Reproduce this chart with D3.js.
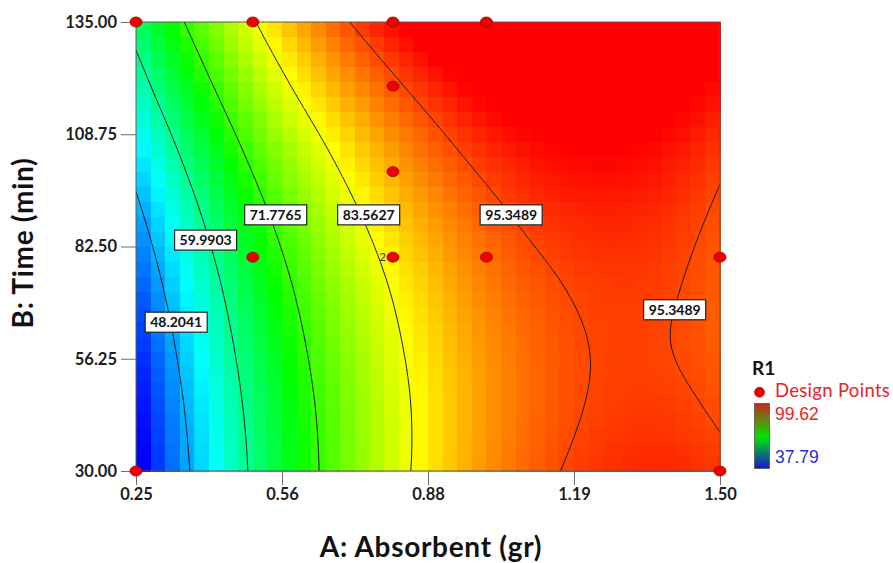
<!DOCTYPE html>
<html>
<head>
<meta charset="utf-8">
<script src="https://cdn.jsdelivr.net/npm/d3@7"></script>
<style>
  body { margin: 0; background: #fff; }
  svg { display: block; }
</style>
</head>
<body>
<svg id="chart" width="893" height="563"></svg>
<script>
// ---- Data -------------------------------------------------------------
// Factor levels of the response grid
const absorbentLevels = [0.25, 0.375, 0.5, 0.625, 0.75, 0.875, 1.0, 1.125, 1.25, 1.375, 1.5];
const timeLevels = [30, 45, 60, 75, 90, 105, 120, 135];
// Predicted R1: one row per time level (30 -> 135), one column per absorbent level
const r1Grid = [
  [35.8, 49.2, 60.9, 70.6, 78.7, 85.4, 90.8, 94.6, 96.8, 97.4, 96.4],
  [37.3, 50.4, 61.8, 71.2, 78.9, 85.3, 90.4, 93.9, 95.8, 96.1, 94.8],
  [39.6, 52.4, 63.5, 72.6, 80.0, 86.1, 90.8, 94.0, 95.6, 95.5, 93.9],
  [42.7, 55.1, 65.9, 74.7, 81.8, 87.6, 92.1, 94.9, 96.2, 95.9, 93.9],
  [46.6, 58.7, 69.2, 77.7, 84.5, 90.0, 94.1, 96.7, 97.6, 97.0, 94.7],
  [51.4, 63.2, 73.4, 81.5, 88.0, 93.2, 97.0, 99.2, 99.9, 98.9, 96.3],
  [56.9, 68.4, 78.2, 86.1, 92.3, 97.2, 100.7, 102.6, 102.9, 101.6, 98.8],
  [62.4, 73.6, 83.1, 91.0, 97.3, 102.0, 105.2, 106.8, 106.8, 105.2, 102.0]
];
const r1Min = 37.79;
const r1Max = 99.62;
const contourLevels = [48.2041, 59.9903, 71.7765, 83.5627, 95.3489];
// Where each contour value is written (A, B)
const contourLabelValues = [48.2041, 59.9903, 71.7765, 83.5627, 95.3489, 95.3489];
const contourLabelA = [0.336, 0.399, 0.549, 0.748, 1.053, 1.403];
const contourLabelB = [64.8, 84.0, 89.9, 89.9, 89.9, 67.7];
// Design points (run settings) and their replicate counts
const pointA = [0.25, 0.5, 0.8, 1.0, 0.8, 0.8, 0.5, 0.8, 1.0, 1.5, 0.25, 1.5];
const pointB = [135, 135, 135, 135, 120, 100, 80, 80, 80, 80, 30, 30];
const pointReps = [1, 1, 1, 1, 1, 1, 1, 2, 1, 1, 1, 1];
// Axis ticks
const xTickValues = [0.25, 0.5625, 0.875, 1.1875, 1.5];
const xTickLabels = ["0.25", "0.56", "0.88", "1.19", "1.50"];
const yTickValues = [30, 56.25, 82.5, 108.75, 135];
const yTickLabels = ["30.00", "56.25", "82.50", "108.75", "135.00"];

// ---- Layout -----------------------------------------------------------
const plot = { left: 136, right: 720, top: 22, bottom: 471 };
const svg = d3.select("#chart");
const x = d3.scaleLinear().domain([0.25, 1.5]).range([plot.left, plot.right]);
const y = d3.scaleLinear().domain([30, 135]).range([plot.bottom, plot.top]);
const FONT = "Lato, 'Open Sans', sans-serif";

// Colour ramp blue -> cyan -> green -> yellow -> red
const color = d3.scaleLinear()
  .domain(d3.range(5).map(k => r1Min + k * (r1Max - r1Min) / 4))
  .range(["#0000ff", "#00ffff", "#00ff00", "#ffff00", "#ff0000"])
  .interpolate(d3.interpolateRgb)
  .clamp(true);

// ---- Smooth surface through the grid (Catmull-Rom in both directions) --
const aIdx = d3.scaleLinear().domain(d3.extent(absorbentLevels)).range([0, absorbentLevels.length - 1]);
const bIdx = d3.scaleLinear().domain(d3.extent(timeLevels)).range([0, timeLevels.length - 1]);

function catmull(p0, p1, p2, p3, t) {
  return p1 + 0.5 * t * (p2 - p0 + t * (2 * p0 - 5 * p1 + 4 * p2 - p3 + t * (3 * (p1 - p2) + p3 - p0)));
}
function along(arr, u) {
  const n = arr.length;
  u = Math.max(0, Math.min(n - 1, u));
  const i = Math.min(Math.floor(u), n - 2);
  const t = u - i;
  const g = k => k < 0 ? 3 * arr[0] - 3 * arr[1] + arr[2]
    : k > n - 1 ? 3 * arr[n - 1] - 3 * arr[n - 2] + arr[n - 3] : arr[k];
  return catmull(g(i - 1), g(i), g(i + 1), g(i + 2), t);
}
function surface(a, b) {
  const u = aIdx(a), v = bIdx(b);
  const column = r1Grid.map(row => along(row, u));
  return along(column, v);
}

// ---- Heat map blocks --------------------------------------------------
const nCols = 40, nRows = 30;
const dA = (1.5 - 0.25) / nCols, dB = (135 - 30) / nRows;
const cells = [];
for (let j = 0; j < nRows; j++) {
  for (let i = 0; i < nCols; i++) {
    const a0 = 0.25 + i * dA, b0 = 30 + j * dB;
    cells.push({ a0, a1: a0 + dA, b0, b1: b0 + dB, v: surface(a0 + dA / 2, b0 + dB / 2) });
  }
}
const defs = svg.append("defs");
defs.append("clipPath").attr("id", "plotClip")
  .append("rect")
  .attr("x", plot.left).attr("y", plot.top)
  .attr("width", plot.right - plot.left).attr("height", plot.bottom - plot.top);

svg.append("g").attr("shape-rendering", "crispEdges")
  .selectAll("rect").data(cells).join("rect")
  .attr("x", d => x(d.a0))
  .attr("y", d => y(d.b1))
  .attr("width", d => x(d.a1) - x(d.a0) + 0.5)
  .attr("height", d => y(d.b0) - y(d.b1) + 0.5)
  .attr("fill", d => color(d.v));

// ---- Contour lines ----------------------------------------------------
const pad = 5, sn = 150, sm = 114;
const sA = 1.25 / sn, sB = 105 / sm;
const gw = sn + 1 + 2 * pad, gh = sm + 1 + 2 * pad;
const sampled = new Array(gw * gh);
for (let j = 0; j < gh; j++) {
  for (let i = 0; i < gw; i++) {
    sampled[j * gw + i] = surface(0.25 + (i - pad) * sA, 30 + (j - pad) * sB);
  }
}
const gridToPx = d3.geoTransform({
  point(cx, cy) {
    this.stream.point(x(0.25 + (cx - 0.5 - pad) * sA), y(30 + (cy - 0.5 - pad) * sB));
  }
});
const contourGen = d3.contours().size([gw, gh]).thresholds(contourLevels);
svg.append("g").attr("clip-path", "url(#plotClip)")
  .selectAll("path").data(contourGen(sampled)).join("path")
  .attr("d", d3.geoPath(gridToPx))
  .attr("fill", "none")
  .attr("stroke", "#1b1b1b")
  .attr("stroke-width", 1);

// ---- Plot frame -------------------------------------------------------
svg.append("rect")
  .attr("x", plot.left).attr("y", plot.top)
  .attr("width", plot.right - plot.left).attr("height", plot.bottom - plot.top)
  .attr("fill", "none").attr("stroke", "#5a5a5a").attr("stroke-width", 1);

// ---- Axes -------------------------------------------------------------
const xAxis = d3.axisBottom(x).tickValues(xTickValues)
  .tickFormat((d, i) => xTickLabels[i]).tickSizeInner(14).tickSizeOuter(0).tickPadding(3);
const yAxis = d3.axisLeft(y).tickValues(yTickValues)
  .tickFormat((d, i) => yTickLabels[i]).tickSizeInner(15).tickSizeOuter(0).tickPadding(4);

function styleAxis(g) {
  g.select(".domain").remove();
  g.selectAll(".tick line").attr("stroke", "#6e6e6e");
  g.selectAll(".tick text")
    .attr("fill", "#1e1e1e")
    .style("font-family", FONT)
    .style("font-weight", "700")
    .style("font-size", "16.5px");
}
svg.append("g").attr("transform", `translate(0,${plot.bottom})`).call(xAxis).call(styleAxis);
svg.append("g").attr("transform", `translate(${plot.left},0)`).call(yAxis).call(styleAxis);

svg.append("text")
  .attr("x", 431).attr("y", 557)
  .attr("text-anchor", "middle")
  .style("font-family", FONT).style("letter-spacing", "0.7px")
  .style("font-weight", "700").style("font-size", "28px").attr("fill", "#111")
  .text("A: Absorbent (gr)");
svg.append("text")
  .attr("transform", "translate(33,243) rotate(-90)")
  .attr("text-anchor", "middle")
  .style("font-family", FONT).style("letter-spacing", "0.7px")
  .style("font-weight", "700").style("font-size", "28px").attr("fill", "#111")
  .text("B: Time (min)");

// ---- Contour value labels ---------------------------------------------
const labelG = svg.append("g");
contourLabelValues.forEach((val, k) => {
  const cx = x(contourLabelA[k]), cy = y(contourLabelB[k]);
  const g = labelG.append("g").attr("transform", `translate(${cx},${cy})`);
  const t = g.append("text")
    .attr("text-anchor", "middle").attr("dy", "0.36em")
    .style("font-family", FONT)
    .style("font-weight", "700").style("font-size", "14px").attr("fill", "#111")
    .text(d3.format(".4f")(val));
  const w = t.node().getComputedTextLength() + 10;
  g.insert("rect", "text")
    .attr("x", -w / 2).attr("y", -10).attr("width", w).attr("height", 20)
    .attr("fill", "#fff").attr("stroke", "#222").attr("stroke-width", 1.2);
});

// ---- Design points ----------------------------------------------------
const pts = pointA.map((a, i) => ({ a, b: pointB[i], n: pointReps[i] }));
svg.append("g").selectAll("ellipse").data(pts).join("ellipse")
  .attr("cx", d => x(d.a)).attr("cy", d => y(d.b))
  .attr("rx", 6).attr("ry", 5)
  .attr("fill", "#ee0000").attr("stroke", "#9a0000").attr("stroke-width", 0.8);
svg.append("g").selectAll("text").data(pts.filter(d => d.n > 1)).join("text")
  .attr("x", d => x(d.a) - 7).attr("y", d => y(d.b)).attr("dy", "0.35em")
  .attr("text-anchor", "end")
  .style("font-family", FONT).style("font-size", "11px").attr("fill", "#333")
  .text(d => d.n);

// ---- Legend -----------------------------------------------------------
const legend = svg.append("g");
legend.append("text").attr("x", 752).attr("y", 375)
  .style("font-family", FONT).style("font-weight", "700").style("font-size", "19px")
  .attr("fill", "#111").text("R1");
legend.append("circle").attr("cx", 759.5).attr("cy", 392.3).attr("r", 5)
  .attr("fill", "#ee0000").attr("stroke", "#9a0000").attr("stroke-width", 0.6);
legend.append("text").attr("x", 775).attr("y", 397)
  .style("font-family", FONT).style("font-size", "18.5px").style("letter-spacing", "0.3px")
  .attr("fill", "#e8232a").text("Design Points");

const grad = defs.append("linearGradient").attr("id", "r1Grad")
  .attr("x1", 0).attr("y1", 0).attr("x2", 0).attr("y2", 1);
grad.append("stop").attr("offset", "0%").attr("stop-color", "#c8261c");
grad.append("stop").attr("offset", "52%").attr("stop-color", "#00e600");
grad.append("stop").attr("offset", "100%").attr("stop-color", "#1414d8");
legend.append("rect").attr("x", 754.5).attr("y", 403.5).attr("width", 15).attr("height", 65)
  .attr("fill", "url(#r1Grad)").attr("stroke", "#555").attr("stroke-width", 0.8);
legend.append("text").attr("x", 775).attr("y", 419.5)
  .style("font-family", "'Liberation Sans', Arial, sans-serif").style("font-size", "17.5px")
  .attr("fill", "#e8232a").text(d3.format(".2f")(r1Max));
legend.append("text").attr("x", 775).attr("y", 462.5)
  .style("font-family", "'Liberation Sans', Arial, sans-serif").style("font-size", "17.5px")
  .attr("fill", "#2b2bdc").text(d3.format(".2f")(r1Min));
</script>
</body>
</html>
